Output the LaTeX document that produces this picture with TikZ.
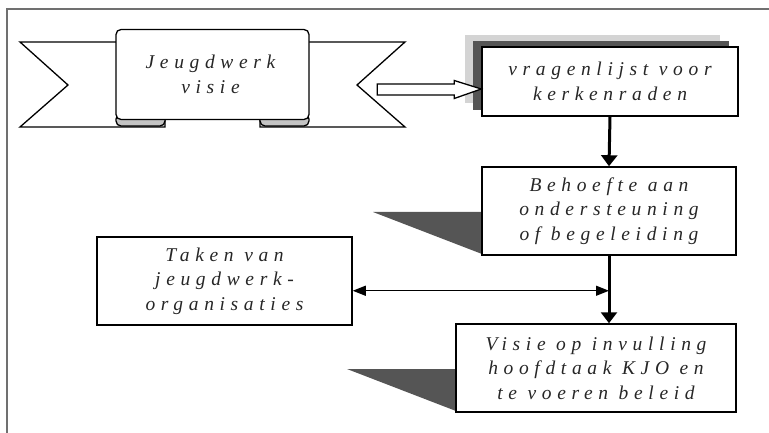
\documentclass[tikz,border=0pt]{standalone}
\usepackage{fontspec}
\setmainfont{Liberation Serif}
\newfontfamily\spaced[LetterSpace=29]{Liberation Serif}
\usetikzlibrary{arrows.meta,calc}
\definecolor{shdark}{HTML}{555555}
\definecolor{shlight}{HTML}{D4D4D4}
\definecolor{foldgray}{HTML}{C4C4C4}
\definecolor{framegray}{HTML}{707070}
\begin{document}
\begin{tikzpicture}[x=1pt,y=-1pt,
  lbl/.style={font=\spaced\itshape\fontsize{19.5}{24.5}\selectfont, align=center, text=black!85},
  boxnode/.style={draw, line width=1.5pt, fill=white, inner sep=0pt, lbl},
  thick arrow/.style={line width=3pt, -{Triangle[width=16pt,length=11pt]}},
  thin arrow/.style={line width=1.3pt, {Triangle[width=10pt,length=13pt]}-{Triangle[width=10pt,length=13pt]}}]
\useasboundingbox (0,0) rectangle (769,433);
% frame
\draw[framegray, line width=1.6pt] (7,433) -- (7,9) -- (769,9);
% banner tails
\draw[line width=1.3pt, fill=white, line join=miter] (117,42) -- (20,42) -- (68,85) -- (20,127) -- (165,127) -- (165,115);
\draw[line width=1.3pt, fill=white, line join=miter] (308,42) -- (405,42) -- (357,85) -- (405,127) -- (260,127) -- (260,115);
% folds
\draw[line width=1.3pt, fill=foldgray, rounded corners=5pt] (116,114) rectangle (165,126);
\draw[line width=1.3pt, fill=foldgray, rounded corners=5pt] (260,114) rectangle (309,126);
% centre panel
\node[boxnode, line width=1.3pt, rounded corners=5pt, minimum width=193pt, minimum height=90pt] (banner) at (212.5,74.5) {};
\node[lbl] (bantext) at ($(banner.center)+(-2,0)$) {Jeugdwerk\\visie};
% vragenlijst with shadows
\fill[shlight] (465,35) rectangle (720,103);
\fill[shdark] (473,41) rectangle (729,110);
\node[boxnode, minimum width=256pt, minimum height=69pt] (vrag) at (610,81.5) {vragenlijst voor\\kerkenraden};
% Behoefte
\fill[shdark] (373,212) -- (482,212) -- (482,254) -- cycle;
\node[boxnode, minimum width=254pt, minimum height=88pt] (beh) at (609,211) {Behoefte aan\\ondersteuning\\of begeleiding};
% Visie
\fill[shdark] (347,369) -- (456,369) -- (456,411) -- cycle;
\node[boxnode, minimum width=280pt, minimum height=88pt] (vis) at (596,368) {Visie op invulling\\hoofdtaak KJO en\\te voeren beleid};
% Taken
\node[boxnode, minimum width=255pt, minimum height=88pt] (taken) at (224.5,281) {Taken van\\jeugdwerk-\\organisaties};
% hollow block arrow
\coordinate (tip) at ($(vrag.west)+(0,7.5)$);
\draw[line width=1.3pt, fill=white, line join=miter]
  ($(tip)+(-104,-5)$) -- ($(tip)+(-27,-5)$) -- ($(tip)+(-27,-8.5)$) -- (tip)
  -- ($(tip)+(-27,9.5)$) -- ($(tip)+(-27,6)$) -- ($(tip)+(-104,6)$) -- cycle;
% connectors
\draw[thick arrow] (vrag.south) -- (beh.north);
\draw[thick arrow] (beh.south) -- (beh.south |- vis.north);
\coordinate (junc) at ($(beh.south)+(0,35)$);
\draw[thin arrow] (junc -| taken.east) -- (junc);
\end{tikzpicture}
\end{document}
